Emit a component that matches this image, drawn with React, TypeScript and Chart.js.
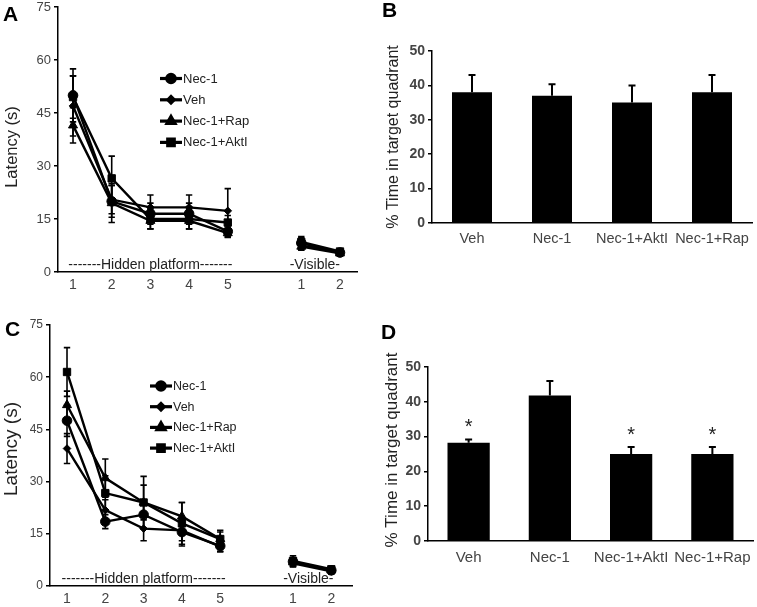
import React, { useEffect, useRef } from 'react';
import { Chart, registerables } from 'chart.js';
import { drawPoint } from 'chart.js/helpers';

Chart.register(...registerables);

const FONT = '"Liberation Sans", Arial, Helvetica, sans-serif';

// ---------- shared labels ----------
const lineGroups = ['Nec-1', 'Veh', 'Nec-1+Rap', 'Nec-1+AktI'];
const groupMarkers = ['circle', 'rectRot', 'triangle', 'rect'];
const dayLabels = ['1', '2', '3', '4', '5', '1', '2'];
const phaseLabels = ['-------Hidden platform-------', '-Visible-'];
const latencyTitle = 'Latency (s)';
const barGroups = ['Veh', 'Nec-1', 'Nec-1+AktI', 'Nec-1+Rap'];
const barTitle = '% Time in target quadrant';

// ---------- Panel A (latency, hidden days 1-5 then visible days 1-2) ----------
const A_NEC1 = [50, 20, 16.5, 16.5, 11.5, 8.2, 5.5];
const A_VEH = [47, 20.5, 18.3, 18.3, 17.3, 7.5, 5.6];
const A_RAP = [41.5, 19.5, 14.5, 14.5, 11, 7.2, 5.3];
const A_AKTI = [49.5, 26.5, 15, 15, 14, 8.5, 5.8];
const A_NEC1_ERR = [7.5, 4.5, 3, 3, 1.5, 1.5, 0.8];
const A_VEH_ERR = [8.5, 4, 3.5, 3.5, 6.3, 1.2, 0.7];
const A_RAP_ERR = [5, 5.5, 2.3, 2.3, 1.2, 1, 0.8];
const A_AKTI_ERR = [6, 6.3, 2.8, 2.8, 2, 1.5, 0.8];

// ---------- Panel B ----------
const B_MEAN = [38, 37, 35, 38];
const B_ERR = [5, 3.3, 5, 5];

// ---------- Panel C ----------
const C_NEC1 = [47.5, 18.5, 20.5, 15.5, 11.5, 7, 4.5];
const C_VEH = [39.5, 21.8, 16.5, 16, 11.3, 6.5, 4.2];
const C_RAP = [52, 31, 24, 20, 13.5, 6.8, 4.5];
const C_AKTI = [61.5, 26.7, 24, 18, 13.5, 7.2, 4.8];
const C_NEC1_ERR = [4.5, 2, 4, 4, 1.5, 1.2, 0.8];
const C_VEH_ERR = [4.3, 3, 3.5, 3, 1.5, 1, 0.8];
const C_RAP_ERR = [4, 5.5, 5, 4, 2, 1.2, 0.8];
const C_AKTI_ERR = [7, 5, 7.5, 6, 2.5, 1.5, 0.8];

// ---------- Panel D ----------
const D_MEAN = [28.2, 41.8, 25, 25];
const D_ERR = [1, 4.2, 2, 2];
const D_SIG = ['*', '', '*', '*'];

// x position on the linear day axis (visible days sit after a gap)
const dayPos = (i: number) => (i < 5 ? i + 1 : i + 1.9);

const TICK_COLOR = '#444';
const TEXT_COLOR = '#222';

type Area = { left: number; top: number; right: number; bottom: number };

const fixScales = (area: Area, height: number) => ({
  x: (s: any) => {
    s.height = height - area.bottom;
    s.paddingLeft = 0;
    s.paddingRight = 0;
  },
  y: (s: any) => {
    s.width = area.left;
    s.paddingTop = 0;
    s.paddingBottom = 0;
  },
});

const errorBarPlugin = {
  id: 'errorBars',
  afterDatasetsDraw(chart: any) {
    const ctx = chart.ctx;
    const yScale = chart.scales.y;
    chart.data.datasets.forEach((ds: any, di: number) => {
      if (!ds.errors) return;
      const meta = chart.getDatasetMeta(di);
      meta.data.forEach((el: any, j: number) => {
        const raw = ds.data[j];
        const v = typeof raw === 'number' ? raw : raw.y;
        const e = ds.errors[j];
        const x = el.x;
        const yTop = yScale.getPixelForValue(v + e);
        const yBot = ds.oneSided ? el.y : yScale.getPixelForValue(v - e);
        const cap = ds.capHalf || 3;
        ctx.save();
        ctx.strokeStyle = '#000';
        ctx.lineWidth = ds.errWidth || 1.5;
        ctx.beginPath();
        ctx.moveTo(x, yTop);
        ctx.lineTo(x, yBot);
        ctx.moveTo(x - cap, yTop);
        ctx.lineTo(x + cap, yTop);
        if (!ds.oneSided) {
          ctx.moveTo(x - cap, yBot);
          ctx.lineTo(x + cap, yBot);
        }
        ctx.stroke();
        if (ds.sig && ds.sig[j]) {
          ctx.fillStyle = TEXT_COLOR;
          ctx.font = `${ds.sigSize || 18}px ${FONT}`;
          ctx.textAlign = 'center';
          ctx.textBaseline = 'middle';
          ctx.fillText(ds.sig[j], x, yTop - (ds.sigGap || 12));
        }
        ctx.restore();
      });
    });
  },
};

const markerRadius = [4.8, 3.8, 5.2, 5.2];

type LineProps = {
  series: number[][];
  errors: number[][];
  pos: { left: number; top: number; width: number; height: number };
  area: Area;
  xMin: number;
  xMax: number;
  yTickSize: number;
  xTickSize: number;
  xTickPad: number;
  title: { x: number; y: number; size: number };
  legend: { dx: number; dy: number; gap: number; size: number };
  phaseSize: number;
  visibleCenter: number;
};

function LinePanel(p: LineProps) {
  const ref = useRef<HTMLCanvasElement>(null);
  useEffect(() => {
    const fx = fixScales(p.area, p.pos.height);
    const datasets: any[] = [];
    p.series.forEach((vals, si) => {
      const pts = vals.map((v, i) => ({ x: dayPos(i), y: v }));
      const style = {
        borderColor: '#000',
        backgroundColor: '#000',
        borderWidth: 2.4,
        pointStyle: groupMarkers[si],
        pointRadius: markerRadius[si],
        pointBackgroundColor: '#000',
        pointBorderColor: '#000',
        pointBorderWidth: 1,
        tension: 0,
        capHalf: 3.2,
        errWidth: 1.6,
      };
      datasets.push({ ...style, label: lineGroups[si], data: pts.slice(0, 5), errors: p.errors[si].slice(0, 5) });
      datasets.push({ ...style, label: lineGroups[si] + ' visible', data: pts.slice(5), errors: p.errors[si].slice(5) });
    });

    const annotations = {
      id: 'annotations',
      afterDraw(chart: any) {
        const ctx = chart.ctx;
        const ca = chart.chartArea;
        const xs = chart.scales.x;
        ctx.save();
        // y title
        ctx.fillStyle = TEXT_COLOR;
        ctx.font = `${p.title.size}px ${FONT}`;
        ctx.textAlign = 'center';
        ctx.textBaseline = 'middle';
        ctx.translate(p.title.x, p.title.y);
        ctx.rotate(-Math.PI / 2);
        ctx.fillText(latencyTitle, 0, 0);
        ctx.restore();

        // phase labels
        ctx.save();
        ctx.fillStyle = TEXT_COLOR;
        ctx.font = `${p.phaseSize}px ${FONT}`;
        ctx.textAlign = 'center';
        ctx.textBaseline = 'alphabetic';
        ctx.fillText(phaseLabels[0], xs.getPixelForValue(3), ca.bottom - 3);
        ctx.fillText(phaseLabels[1], xs.getPixelForValue(p.visibleCenter), ca.bottom - 3);
        ctx.restore();

        // legend
        ctx.save();
        lineGroups.forEach((name, i) => {
          const x0 = ca.left + p.legend.dx;
          const y = ca.top + p.legend.dy + i * p.legend.gap;
          ctx.strokeStyle = '#000';
          ctx.lineWidth = 3.2;
          ctx.beginPath();
          ctx.moveTo(x0, y);
          ctx.lineTo(x0 + 22, y);
          ctx.stroke();
          ctx.fillStyle = '#000';
          drawPoint(ctx, { pointStyle: groupMarkers[i], radius: markerRadius[i] - 0.6, borderWidth: 1, rotation: 0 } as any, x0 + 11, y);
          ctx.fillStyle = TEXT_COLOR;
          ctx.font = `${p.legend.size}px ${FONT}`;
          ctx.textAlign = 'left';
          ctx.textBaseline = 'middle';
          ctx.fillText(name, x0 + 23, y + 0.5);
        });
        ctx.restore();
      },
    };

    const chart = new Chart(ref.current as HTMLCanvasElement, {
      type: 'line',
      data: { datasets },
      options: {
        animation: false,
        responsive: false,
        maintainAspectRatio: false,
        layout: { padding: { left: 0, top: p.area.top, right: p.pos.width - p.area.right, bottom: 0 } },
        plugins: { legend: { display: false }, tooltip: { enabled: false } },
        scales: {
          x: {
            type: 'linear',
            min: p.xMin,
            max: p.xMax,
            grid: { display: false, drawTicks: false, tickLength: 0 },
            border: { display: true, color: '#000', width: 1.5 },
            afterFit: fx.x,
            afterBuildTicks: (s: any) => {
              s.ticks = dayLabels.map((_, i) => ({ value: dayPos(i) }));
            },
            ticks: {
              autoSkip: false,
              maxRotation: 0,
              padding: p.xTickPad,
              color: TICK_COLOR,
              font: { family: FONT, size: p.xTickSize },
              callback: (_v: any, i: number) => dayLabels[i],
            },
          },
          y: {
            min: 0,
            max: 75,
            grid: { display: true, drawOnChartArea: false, drawTicks: true, tickLength: 4, color: '#000', lineWidth: 1.5 },
            border: { display: true, color: '#000', width: 1.5 },
            afterFit: fx.y,
            ticks: {
              stepSize: 15,
              padding: 3,
              color: TICK_COLOR,
              font: { family: FONT, size: p.yTickSize },
            },
          },
        },
      } as any,
      plugins: [errorBarPlugin, annotations],
    });
    return () => chart.destroy();
  }, []);
  return (
    <canvas
      ref={ref}
      width={p.pos.width}
      height={p.pos.height}
      style={{ position: 'absolute', left: p.pos.left, top: p.pos.top, width: p.pos.width, height: p.pos.height }}
    />
  );
}

type BarProps = {
  means: number[];
  errors: number[];
  sig?: string[];
  pos: { left: number; top: number; width: number; height: number };
  area: Area;
  yTickSize: number;
  xTickSize: number;
  xTickPad: number;
  barPct: number;
  title: { x: number; y: number; size: number };
};

function BarPanel(p: BarProps) {
  const ref = useRef<HTMLCanvasElement>(null);
  useEffect(() => {
    const fx = fixScales(p.area, p.pos.height);
    const titlePlugin = {
      id: 'ytitle',
      afterDraw(chart: any) {
        const ctx = chart.ctx;
        ctx.save();
        ctx.fillStyle = TEXT_COLOR;
        ctx.font = `${p.title.size}px ${FONT}`;
        ctx.textAlign = 'center';
        ctx.textBaseline = 'middle';
        ctx.translate(p.title.x, p.title.y);
        ctx.rotate(-Math.PI / 2);
        ctx.fillText(barTitle, 0, 0);
        ctx.restore();
      },
    };
    const chart = new Chart(ref.current as HTMLCanvasElement, {
      type: 'bar',
      data: {
        labels: barGroups,
        datasets: [
          {
            data: p.means,
            errors: p.errors,
            oneSided: true,
            capHalf: 3.5,
            errWidth: 2,
            sig: p.sig,
            sigSize: 20,
            sigGap: 12,
            backgroundColor: '#000',
            borderColor: '#000',
            borderWidth: 0,
            barPercentage: p.barPct,
            categoryPercentage: 1,
          } as any,
        ],
      },
      options: {
        animation: false,
        responsive: false,
        maintainAspectRatio: false,
        layout: { padding: { left: 0, top: p.area.top, right: p.pos.width - p.area.right, bottom: 0 } },
        plugins: { legend: { display: false }, tooltip: { enabled: false } },
        scales: {
          x: {
            grid: { display: false, drawTicks: false, tickLength: 0 },
            border: { display: true, color: '#000', width: 1.5 },
            afterFit: fx.x,
            ticks: {
              autoSkip: false,
              maxRotation: 0,
              padding: p.xTickPad,
              color: TICK_COLOR,
              font: { family: FONT, size: p.xTickSize },
            },
          },
          y: {
            min: 0,
            max: 50,
            grid: { display: true, drawOnChartArea: false, drawTicks: true, tickLength: 4, color: '#000', lineWidth: 1.5 },
            border: { display: true, color: '#000', width: 1.5 },
            afterFit: fx.y,
            ticks: {
              stepSize: 10,
              padding: 3,
              color: TICK_COLOR,
              font: { family: FONT, size: p.yTickSize, weight: 'bold' },
            },
          },
        },
      } as any,
      plugins: [errorBarPlugin, titlePlugin],
    });
    return () => chart.destroy();
  }, []);
  return (
    <canvas
      ref={ref}
      width={p.pos.width}
      height={p.pos.height}
      style={{ position: 'absolute', left: p.pos.left, top: p.pos.top, width: p.pos.width, height: p.pos.height }}
    />
  );
}

const letterStyle = (left: number, top: number): React.CSSProperties => ({
  position: 'absolute',
  left,
  top,
  fontFamily: FONT,
  fontWeight: 'bold',
  fontSize: 21,
  lineHeight: '21px',
  color: '#000',
});

export default function App() {
  return (
    <div style={{ position: 'absolute', left: 0, top: 0, width: 757, height: 607, background: '#fff', overflow: 'hidden' }}>
      <LinePanel
        series={[A_NEC1, A_VEH, A_RAP, A_AKTI]}
        errors={[A_NEC1_ERR, A_VEH_ERR, A_RAP_ERR, A_AKTI_ERR]}
        pos={{ left: 0, top: 0, width: 380, height: 300 }}
        area={{ left: 58, top: 7, right: 357, bottom: 272 }}
        xMin={0.612}
        xMax={8.34}
        yTickSize={13}
        xTickSize={14}
        xTickPad={5}
        title={{ x: 12, y: 147, size: 16.5 }}
        legend={{ dx: 102, dy: 71.5, gap: 21.3, size: 13 }}
        phaseSize={14}
        visibleCenter={7.25}
      />
      <BarPanel
        means={B_MEAN}
        errors={B_ERR}
        pos={{ left: 380, top: 0, width: 377, height: 270 }}
        area={{ left: 52, top: 51, right: 372, bottom: 223 }}
        yTickSize={14}
        xTickSize={14.5}
        xTickPad={7.5}
        barPct={0.5}
        title={{ x: 14, y: 137, size: 16 }}
      />
      <LinePanel
        series={[C_NEC1, C_VEH, C_RAP, C_AKTI]}
        errors={[C_NEC1_ERR, C_VEH_ERR, C_RAP_ERR, C_AKTI_ERR]}
        pos={{ left: 0, top: 300, width: 380, height: 307 }}
        area={{ left: 50, top: 25, right: 352, bottom: 286 }}
        xMin={0.556}
        xMax={8.44}
        yTickSize={12}
        xTickSize={14}
        xTickPad={5}
        title={{ x: 12, y: 149, size: 19 }}
        legend={{ dx: 100, dy: 61, gap: 20.7, size: 12.5 }}
        phaseSize={14}
        visibleCenter={7.3}
      />
      <BarPanel
        means={D_MEAN}
        errors={D_ERR}
        sig={D_SIG}
        pos={{ left: 380, top: 300, width: 377, height: 307 }}
        area={{ left: 48, top: 67, right: 373, bottom: 241 }}
        yTickSize={14}
        xTickSize={15}
        xTickPad={8}
        barPct={0.52}
        title={{ x: 12, y: 150, size: 17 }}
      />
      <div style={letterStyle(3, 3)}>A</div>
      <div style={letterStyle(382, -1)}>B</div>
      <div style={letterStyle(5, 318)}>C</div>
      <div style={letterStyle(381, 321)}>D</div>
    </div>
  );
}
